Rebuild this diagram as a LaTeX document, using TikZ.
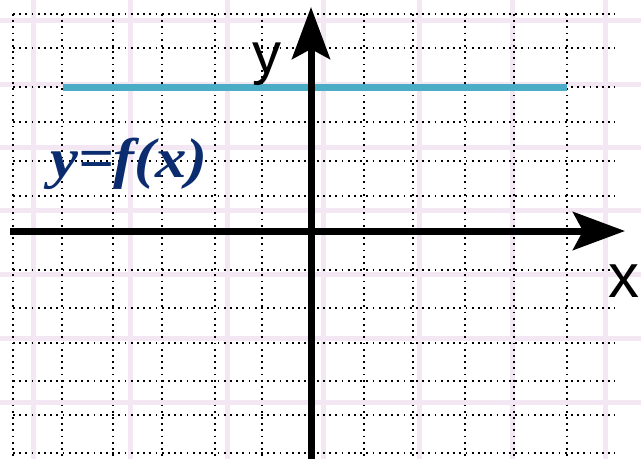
\documentclass[tikz,border=0pt]{standalone}
\usepackage{fontspec}
\setmainfont{Liberation Serif}
\newfontfamily\axfont{Liberation Sans}
\usetikzlibrary{arrows.meta}
\definecolor{pinkgrid}{HTML}{F3E7F3}
\definecolor{lineblue}{HTML}{4BACC6}
\definecolor{navy}{HTML}{0B2C6E}
\tikzset{
  bggrid/.style={pinkgrid, line width=5pt},
  dotgrid/.style={black, line width=1.8pt, dash pattern=on 1.8pt off 4.4pt},
  axis/.style={black, line width=7pt, -{Stealth[length=52pt,width=38pt,inset=10pt]}},
  fline/.style={lineblue, line width=7pt},
  axlabel/.style={inner sep=0pt, anchor=base west},
}
\begin{document}
\begin{tikzpicture}[x=1pt,y=-1pt]
\fill[white] (0,0) rectangle (641,459);
\useasboundingbox (0,0) rectangle (641,459);
% faint background grid
\foreach \x in {33,130,227,323,419,512,605} \draw[bggrid] (\x,0) -- (\x,459);
\foreach \y in {20,84,147,210,274,338,402} \draw[bggrid] (0,\y) -- (641,\y);
% dotted grid
\foreach \x in {13,62,113,162,215,262,364,413,465,514,567} \draw[dotgrid] (\x,14) -- (\x,459);
\foreach \y in {14,48,87,122,161,196,270,308,343,381,415,453} \draw[dotgrid] (13,\y) -- (615,\y);
% function line
\coordinate (fs) at (63,87);
\coordinate (fe) at (567,87);
\draw[fline] (fs) -- (fe);
% axes
\coordinate (xs) at (10,231);
\coordinate (xe) at (625,231);
\coordinate (ys) at (311,459);
\coordinate (ye) at (311,7);
\draw[axis] (xs) -- (xe);
\draw[axis] (ys) -- (ye);
% labels
\node[axlabel, font=\axfont\fontsize{58}{58}\selectfont] (ylab) at (252,73) {y};
\node[axlabel, font=\axfont\fontsize{62}{62}\selectfont] (xlab) at (608,297) {x};
\node[axlabel, navy, font=\bfseries\itshape\fontsize{56}{56}\selectfont, xscale=1.12] (flab) at (50,177) {y=f(x)};
\end{tikzpicture}
\end{document}
